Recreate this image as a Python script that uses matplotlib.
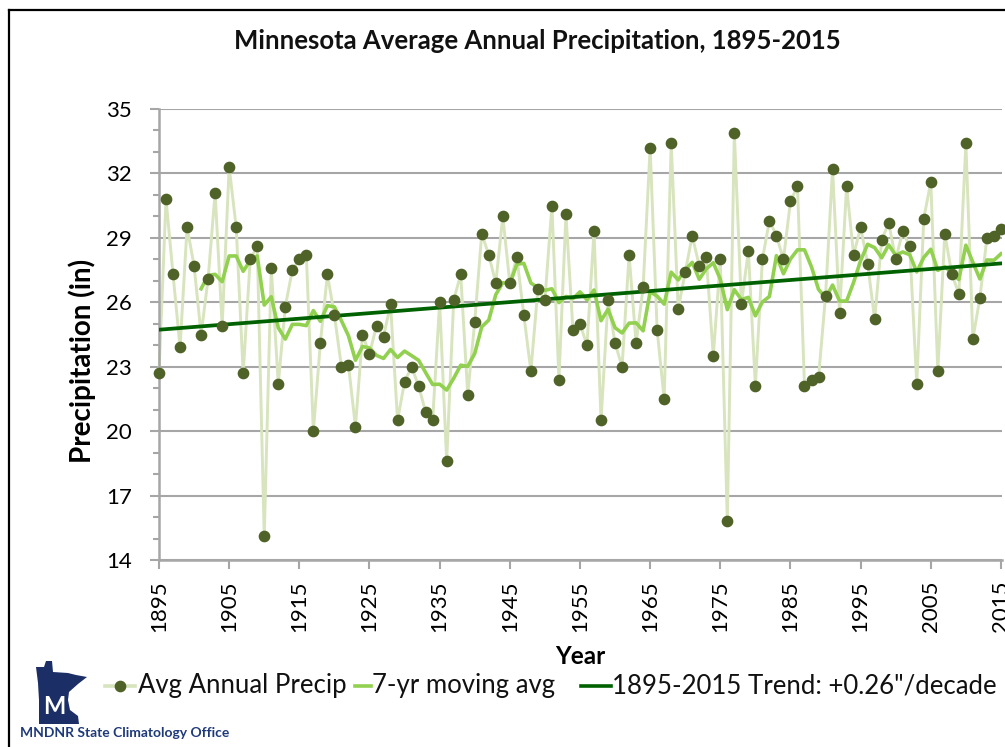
import numpy as np
import pandas as pd
import matplotlib
matplotlib.use("Agg")
import matplotlib.pyplot as plt
from matplotlib.lines import Line2D
from matplotlib.patches import Polygon

plt.rcParams['font.family'] = ['Lato', 'DejaVu Sans']

# ---- data ----
years = list(range(1895, 2016))
precip = [
    22.7, 30.8, 27.3, 23.9, 29.5, 27.7, 24.5, 27.1, 31.1, 24.9,   # 1895-1904
    32.3, 29.5, 22.7, 28.0, 28.6, 15.1, 27.6, 22.2, 25.8, 27.5,   # 1905-1914
    28.0, 28.2, 20.0, 24.1, 27.3, 25.4, 23.0, 23.1, 20.2, 24.5,   # 1915-1924
    23.6, 24.9, 24.4, 25.9, 20.5, 22.3, 23.0, 22.1, 20.9, 20.5,   # 1925-1934
    26.0, 18.6, 26.1, 27.3, 21.7, 25.1, 29.2, 28.2, 26.9, 30.0,   # 1935-1944
    26.9, 28.1, 25.4, 22.8, 26.6, 26.1, 30.5, 22.4, 30.1, 24.7,   # 1945-1954
    25.0, 24.0, 29.3, 20.5, 26.1, 24.1, 23.0, 28.2, 24.1, 26.7,   # 1955-1964
    33.2, 24.7, 21.5, 33.4, 25.7, 27.4, 29.1, 27.7, 28.1, 23.5,   # 1965-1974
    28.0, 15.8, 33.9, 25.9, 28.4, 22.1, 28.0, 29.8, 29.1, 28.0,   # 1975-1984
    30.7, 31.4, 22.1, 22.4, 22.5, 26.3, 32.2, 25.5, 31.4, 28.2,   # 1985-1994
    29.5, 27.8, 25.2, 28.9, 29.7, 28.0, 29.3, 28.6, 22.2, 29.9,   # 1995-2004
    31.6, 22.8, 29.2, 27.3, 26.4, 33.4, 24.3, 26.2, 29.0, 29.1,   # 2005-2014
    29.4,                                                         # 2015
]
year_ticks = list(range(1895, 2016, 10))
y_ticks = [14, 17, 20, 23, 26, 29, 32, 35]

# 7-yr trailing moving average and linear trend (Excel style)
moving = pd.Series(precip).rolling(7).mean()
coef = np.polyfit(years, precip, 1)
trend = np.polyval(coef, years)

W, H = 1005, 747
fig = plt.figure(figsize=(W / 100, H / 100), dpi=100)
ax = fig.add_axes([159 / W, 1 - 560 / H, (1002 - 159) / W, (560 - 109) / H])

DOT = '#4F6228'
PALE = '#D7E4BD'
MOV = '#92D050'
TREND = '#006100'
GRID = '#A6A6A6'

ax.plot(years, precip, color=PALE, lw=2.1, zorder=2, clip_on=False)
ax.plot(years, moving, color=MOV, lw=2.6, zorder=3)
ax.plot(years, trend, color=TREND, lw=2.7, zorder=4)
ax.plot(years, precip, ls='none', marker='o', ms=7.4, color=DOT, zorder=5, clip_on=False)

ax.set_xlim(1895, 2015.15)
ax.set_ylim(14, 35)
ax.set_yticks(y_ticks)
ax.set_yticks(range(14, 36), minor=True)
ax.set_xticks(year_ticks)
ax.set_xticklabels([str(y) for y in year_ticks], rotation=90)
ax.yaxis.grid(True, color=GRID, lw=1.5)
ax.set_axisbelow(True)
for s in ['top', 'right']:
    ax.spines[s].set_visible(False)
for s in ['left', 'bottom']:
    ax.spines[s].set_color(GRID)
    ax.spines[s].set_linewidth(1.8)
ax.tick_params(axis='y', which='major', length=6.5, width=1.5, color=GRID, labelsize=16, pad=13)
ax.tick_params(axis='y', which='minor', length=4.5, width=1.5, color=GRID)
ax.tick_params(axis='x', which='major', length=6.5, width=1.5, color=GRID, labelsize=16, pad=8)

ax.set_ylabel('Precipitation (in)', fontsize=20, fontweight='bold', va='center')
ax.yaxis.set_label_coords((82 - 159) / 843, (560 - 361) / 451)
ax.set_xlabel('Year', fontsize=17.5, fontweight='bold', va='center')
ax.xaxis.set_label_coords(0.5, (560 - 656) / 451)
fig.text(537 / W, 1 - 41 / H, 'Minnesota Average Annual Precipitation, 1895-2015',
         ha='center', va='center', fontsize=18.5, fontweight='bold', color='#111111')

# legend drawn by hand (Excel style, short handles)
def px(x, y):
    return x / W, 1 - y / H

LEG_Y = 686
legend_items = [
    (105, 135, PALE, True, 138, 'Avg Annual Precip'),
    (355, 371, MOV, False, 372, '7-yr moving avg'),
    (581, 611, TREND, False, 612, '1895-2015 Trend: +0.26"/decade'),
]
for x0, x1, col, dot, tx, label in legend_items:
    (a, yy), (b, _) = px(x0, LEG_Y), px(x1, LEG_Y)
    fig.add_artist(Line2D([a, b], [yy, yy], color=col, lw=2.6))
    if dot:
        fig.add_artist(Line2D([(a + b) / 2], [yy], ls='none', marker='o', ms=7.4, color=DOT))
    fig.text(*px(tx, LEG_Y), label, ha='left', va='center', fontsize=18.5, color='#111111')

# figure frame (chart border)
fig.add_artist(Line2D([9 / W, 9 / W], [0, 1 - 10 / H], color='black', lw=1.6))
fig.add_artist(Line2D([9 / W, 1], [1 - 10 / H, 1 - 10 / H], color='black', lw=1.6))

# MN DNR logo: rough state outline with an M
outline = [(36, 667), (44, 667), (46, 661), (52, 661), (53, 672), (68, 673), (76, 675),
           (87, 677), (78, 684), (69, 692), (68, 700), (70, 710), (78, 716), (79, 724),
           (39, 724), (39, 700), (38, 683)]
poly = Polygon([px(x, y) for x, y in outline], closed=True,
               facecolor='#1B2F66', edgecolor='none', transform=fig.transFigure)
fig.add_artist(poly)
fig.text(*px(54, 707), 'M', ha='center', va='center', color='white',
         fontsize=17, fontweight='bold')
fig.text(*px(20, 733), 'MNDNR State Climatology Office', ha='left', va='center',
         color='#1F3A7A', fontsize=10, fontweight='bold')

fig.savefig('out.png', dpi=100)
